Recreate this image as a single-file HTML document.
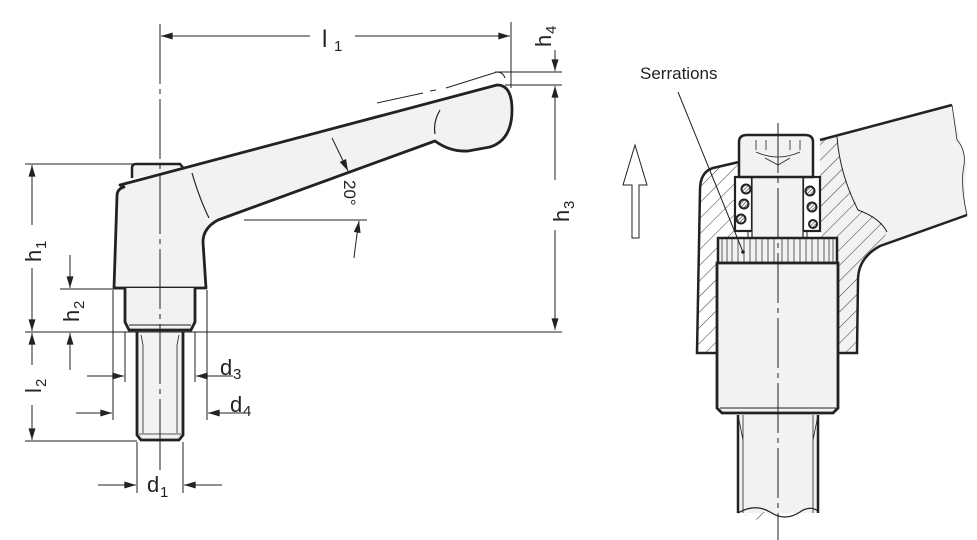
<!DOCTYPE html>
<html><head><meta charset="utf-8"><style>
html,body{margin:0;padding:0;background:#fff;}
svg{display:block;}
text{font-family:"Liberation Sans",Arial,sans-serif;fill:#222;}
</style></head><body>
<svg width="977" height="540" viewBox="0 0 977 540" xmlns="http://www.w3.org/2000/svg">
<defs>
<marker id="a" viewBox="0 0 10 6" refX="10" refY="3" markerWidth="12" markerHeight="7" markerUnits="userSpaceOnUse" orient="auto"><path d="M0,0 L10,3 L0,6 z" fill="#222"/></marker>
<pattern id="h" patternUnits="userSpaceOnUse" width="11" height="11" patternTransform="rotate(45)"><line x1="0" y1="0" x2="0" y2="11" stroke="#222" stroke-width="0.9"/></pattern>
<pattern id="hs" patternUnits="userSpaceOnUse" width="2.5" height="2.5" patternTransform="rotate(45)"><rect width="2.5" height="2.5" fill="#fff"/><line x1="0" y1="0" x2="0" y2="2.5" stroke="#333" stroke-width="1.2"/></pattern>
</defs>
<g stroke="#222" fill="none">
<!-- LEFT FIGURE -->
<path d="M132,178 L132,168 Q132,164 136,164 L180,164 L185,170" fill="#f2f2f2" stroke-width="2.5"/>
<path d="M120,185 L497,85 Q512,85 512,110 Q512,140 490,147 L468,151 Q450,152 435,141 L218,220 Q203,228 203,242 L206,288 L114,288 L117,196 Q117,189 124,187 Z" fill="#f2f2f2" stroke-width="2.8" stroke-linejoin="round"/>
<path d="M192,173 Q200,200 209,218" stroke-width="1.2"/>
<path d="M440,110 Q433,122 435,134" stroke-width="1.2"/>
<path d="M125,288 L125,322 L129,330 L191,330 L195,322 L195,288" fill="#f2f2f2" stroke-width="2.8"/>
<line x1="129" y1="325" x2="191" y2="325" stroke-width="1"/>
<path d="M137,332 L137,435 L141,440 L179,440 L183,435 L183,332" fill="#f2f2f2" stroke-width="2.8"/>
<path d="M141,335 L143,345 L143,433 M179,335 L177,345 L177,433 M139,434 L181,434" stroke-width="0.8"/>
<line x1="160" y1="24" x2="160" y2="450" stroke-width="1" stroke-dasharray="60,5,5,5"/>
<line x1="160" y1="450" x2="160" y2="470" stroke-width="1"/>
<path d="M377,103 L423,93 M430,91 L436,90 M446,88 L497,72 Q503,72 505,78" stroke-width="1"/>
<line x1="511" y1="22" x2="511" y2="88" stroke-width="1"/>
<line x1="310" y1="36" x2="161" y2="36" stroke-width="1" marker-end="url(#a)"/>
<line x1="355" y1="36" x2="510" y2="36" stroke-width="1" marker-end="url(#a)"/>
<line x1="495" y1="72" x2="562" y2="72" stroke-width="1"/>
<line x1="505" y1="85" x2="562" y2="85" stroke-width="1"/>
<line x1="555" y1="50" x2="555" y2="71" stroke-width="1" marker-end="url(#a)"/>
<line x1="555" y1="180" x2="555" y2="86" stroke-width="1" marker-end="url(#a)"/>
<line x1="555" y1="230" x2="555" y2="330" stroke-width="1" marker-end="url(#a)"/>
<line x1="25" y1="332" x2="562" y2="332" stroke-width="1"/>
<line x1="25" y1="164" x2="135" y2="164" stroke-width="1"/>
<line x1="32" y1="225" x2="32" y2="165" stroke-width="1" marker-end="url(#a)"/>
<line x1="32" y1="268" x2="32" y2="331" stroke-width="1" marker-end="url(#a)"/>
<line x1="60" y1="289" x2="125" y2="289" stroke-width="1"/>
<line x1="70" y1="255" x2="70" y2="288" stroke-width="1" marker-end="url(#a)"/>
<line x1="70" y1="370" x2="70" y2="333" stroke-width="1" marker-end="url(#a)"/>
<line x1="32" y1="365" x2="32" y2="333" stroke-width="1" marker-end="url(#a)"/>
<line x1="32" y1="405" x2="32" y2="440" stroke-width="1" marker-end="url(#a)"/>
<line x1="25" y1="441" x2="137" y2="441" stroke-width="1"/>
<line x1="113" y1="290" x2="113" y2="420" stroke-width="1"/>
<line x1="125" y1="332" x2="125" y2="382" stroke-width="1"/>
<line x1="195" y1="332" x2="195" y2="382" stroke-width="1"/>
<line x1="207" y1="290" x2="207" y2="420" stroke-width="1"/>
<line x1="87" y1="376" x2="124" y2="376" stroke-width="1" marker-end="url(#a)"/>
<line x1="233" y1="376" x2="196" y2="376" stroke-width="1" marker-end="url(#a)"/>
<line x1="76" y1="413" x2="112" y2="413" stroke-width="1" marker-end="url(#a)"/>
<line x1="244" y1="413" x2="208" y2="413" stroke-width="1" marker-end="url(#a)"/>
<line x1="137" y1="442" x2="137" y2="493" stroke-width="1"/>
<line x1="183" y1="442" x2="183" y2="493" stroke-width="1"/>
<line x1="98" y1="485" x2="136" y2="485" stroke-width="1" marker-end="url(#a)"/>
<line x1="222" y1="485" x2="184" y2="485" stroke-width="1" marker-end="url(#a)"/>
<line x1="332" y1="138" x2="348" y2="171" stroke-width="1" marker-end="url(#a)"/>
<line x1="244" y1="220" x2="367" y2="220" stroke-width="1"/>
<path d="M354,258 Q356,240 359,221" stroke-width="1" marker-end="url(#a)"/>

<!-- RIGHT FIGURE -->
<path d="M635,145 L647,185 L639,185 L639,238 L632,238 L632,185 L623,185 Z" fill="#fff" stroke-width="1"/>
<path d="M820,140 L952,105 Q960,140 967,165 Q963,190 967,215 L880,246 Q858,258 858,280 L857,353 L838,353 L838,263 L820,230 L820,140 Z" fill="#f2f2f2" stroke="none"/>
<path d="M739,162 L713,168 Q700,172 700,190 L697,353 L717,353 L717,263 L739,263 L739,162 Z" fill="url(#h)" stroke="none"/>
<path d="M820,140 L837,137 Q842,180 860,210 Q885,220 887,232 L880,246 Q858,258 858,280 L857,353 L838,353 L838,238 L820,238 Z" fill="url(#h)" stroke="none"/>
<path d="M837,137 Q840,175 858,210 Q880,218 887,232" stroke-width="1"/>
<path d="M739,162 L713,168 Q700,172 700,190 L697,353 L717,353" stroke-width="2.5"/>
<path d="M820,140 L952,105" stroke-width="2.5"/>
<path d="M967,215 L880,246 Q858,258 858,280 L857,353 L838,353" stroke-width="2.5"/>
<path d="M952,105 Q955,125 957,140 Q966,150 964,165 Q960,185 967,215" stroke-width="0.8"/>
<rect x="735" y="177" width="17" height="54" stroke-width="2.2" fill="#fff"/>
<rect x="803" y="177" width="17" height="54" stroke-width="2.2" fill="#fff"/>
<rect x="752" y="177" width="51" height="61" fill="#f2f2f2" stroke-width="1.2"/>
<line x1="748" y1="231" x2="748" y2="238" stroke-width="1"/>
<line x1="807" y1="231" x2="807" y2="238" stroke-width="1"/>
<g fill="url(#hs)" stroke-width="2">
<circle cx="746" cy="189" r="4.5"/><circle cx="744" cy="204" r="4.5"/><circle cx="741" cy="219" r="4.5"/>
<circle cx="810" cy="191" r="4.5"/><circle cx="812" cy="207" r="4.5"/><circle cx="813" cy="224" r="4"/>
</g>
<path d="M739,177 L739,142 Q739,135 747,135 L805,135 Q813,135 813,142 L813,177 Z" fill="#f2f2f2" stroke-width="2.5"/>
<path d="M756,140 L756,150 M766,140 L766,150 M790,140 L790,150 M800,140 L800,150 M756,152 Q778,162 800,152 M765,158 L778,165 L790,158" stroke-width="0.8"/>
<rect x="718" y="238" width="119" height="25" fill="#f2f2f2" stroke-width="2.5"/>
<g stroke-width="0.7">
<path d="M722,239 V262 M727,239 V262 M732,239 V262 M738,239 V262 M744,239 V262 M750,239 V262 M756,239 V262 M762,239 V262 M768,239 V262 M774,239 V262 M782,239 V262 M788,239 V262 M794,239 V262 M800,239 V262 M806,239 V262 M812,239 V262 M818,239 V262 M824,239 V262 M829,239 V262 M833,239 V262"/>
</g>
<path d="M717,263 L717,408 L722,413 L833,413 L838,408 L838,263 Z" fill="#f2f2f2" stroke-width="2.8"/>
<line x1="720" y1="408" x2="836" y2="408" stroke-width="1"/>
<rect x="739" y="415" width="78" height="98" fill="#f2f2f2" stroke="none"/>
<path d="M738,415 L738,513 M818,415 L818,513" stroke-width="2.5"/>
<path d="M743,415 L743,513 M813,415 L813,513 M738,415 L743,440 M818,415 L813,440" stroke-width="0.8"/>
<path d="M745,515 Q760,508 775,516 L770,520 Q755,522 745,515 Z" fill="url(#h)" stroke="none"/>
<path d="M738,513 Q755,503 770,512 Q785,522 800,512 Q810,505 818,511" stroke-width="1.2"/>
<line x1="778" y1="123" x2="778" y2="540" stroke-width="1" stroke-dasharray="50,5,5,5"/>
<line x1="678" y1="92" x2="743" y2="252" stroke-width="1"/>
<circle cx="743" cy="252" r="1.8" fill="#222" stroke="none"/>
</g>

<text x="322" y="47" font-size="24">l</text><text x="334" y="51" font-size="15">1</text>
<g transform="translate(551,47) rotate(-90)"><text x="0" y="0" font-size="22">h</text><text x="13" y="5" font-size="15">4</text></g>
<g transform="translate(569,222) rotate(-90)"><text x="0" y="0" font-size="22">h</text><text x="13" y="5" font-size="15">3</text></g>
<g transform="translate(41,262) rotate(-90)"><text x="0" y="0" font-size="22">h</text><text x="13" y="5" font-size="15">1</text></g>
<g transform="translate(79,322) rotate(-90)"><text x="0" y="0" font-size="22">h</text><text x="13" y="5" font-size="15">2</text></g>
<g transform="translate(41,393) rotate(-90)"><text x="0" y="0" font-size="22">l</text><text x="6" y="5" font-size="15">2</text></g>
<g transform="translate(344,180) rotate(90)"><text x="0" y="0" font-size="17">20°</text></g>
<text x="220" y="375" font-size="22">d</text><text x="233" y="379" font-size="15">3</text>
<text x="230" y="412" font-size="22">d</text><text x="243" y="416" font-size="15">4</text>
<text x="147" y="492" font-size="22">d</text><text x="160" y="497" font-size="15">1</text>
<text x="640" y="79" font-size="17">Serrations</text>
</svg>
</body></html>
